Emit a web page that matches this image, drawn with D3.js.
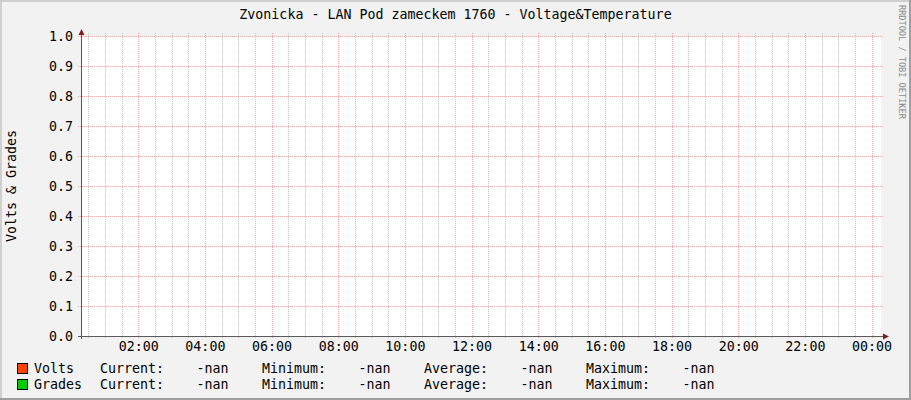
<!DOCTYPE html>
<html>
<head>
<meta charset="utf-8">
<script src="https://cdn.jsdelivr.net/npm/d3@7"></script>
<style>
	body { margin: 0; background: #fff; }
	text { font-family: "DejaVu Sans Mono", monospace; font-size: 13.3px; fill: #000; }
</style>
</head>
<body>
<svg id="chart" width="911" height="400"></svg>
<script>
// chart content
var title = "Zvonicka - LAN Pod zameckem 1760 - Voltage&Temperature";
var yLabel = "Volts & Grades";
var watermark = "RRDTOOL / TOBI OETIKER";

var timeStart = new Date(2024, 0, 1, 0, 17); // graph window, one day
var timeEnd = new Date(2024, 0, 2, 0, 17);
var yTicks = [0.0, 0.1, 0.2, 0.3, 0.4, 0.5, 0.6, 0.7, 0.8, 0.9, 1.0];

var seriesNames = ["Volts", "Grades"];
var seriesColors = ["#ff4400", "#00cc00"];
var statNames = ["Current:", "Minimum:", "Average:", "Maximum:"];
var voltsStats = [NaN, NaN, NaN, NaN];
var gradesStats = [NaN, NaN, NaN, NaN];
var voltsValues = [];  // no samples in the window
var gradesValues = [];

var W = 911, H = 400;
var plot = { left: 81, top: 36, width: 800, height: 300 };

var svg = d3.select('#chart');

var x = d3.scaleTime()
	.domain([timeStart, timeEnd])
	.range([plot.left, plot.left + plot.width]);
var y = d3.scaleLinear()
	.domain([0, 1])
	.range([plot.top + plot.height, plot.top]);

function px(v) { return Math.round(v) + 0.5; }

// background and 3d frame
svg.append('rect').attr('width', W).attr('height', H).attr('fill', '#f2f2f2');
svg.append('rect').attr('x', 0).attr('y', 0).attr('width', W).attr('height', 2).attr('fill', '#cfcfcf');
svg.append('rect').attr('x', 0).attr('y', 0).attr('width', 2).attr('height', H).attr('fill', '#cfcfcf');
svg.append('rect').attr('x', 0).attr('y', H - 2).attr('width', W).attr('height', 2).attr('fill', '#9e9e9e');
svg.append('rect').attr('x', W - 2).attr('y', 0).attr('width', 2).attr('height', H).attr('fill', '#9e9e9e');

svg.append('rect')
	.attr('x', plot.left).attr('y', plot.top)
	.attr('width', plot.width).attr('height', plot.height)
	.attr('fill', '#fff');

// grid
var gridG = svg.append('g').attr('fill', 'none').attr('stroke-dasharray', '1,1');
var yTop = plot.top - 3, yBot = plot.top + plot.height + 3;

var minorTicks = x.ticks(d3.timeMinute.every(30));
var majorTicks = x.ticks(d3.timeHour.every(2));
var isMajor = function(d) { return d.getMinutes() === 0 && d.getHours() % 2 === 0; };

gridG.selectAll('line.minor')
	.data(minorTicks.filter(function(d) { return !isMajor(d); }))
	.enter().append('line')
		.attr('x1', function(d) { return px(x(d)); })
		.attr('x2', function(d) { return px(x(d)); })
		.attr('y1', yTop).attr('y2', yBot)
		.attr('stroke', '#c8c8c8');

gridG.selectAll('line.vmajor')
	.data(majorTicks)
	.enter().append('line')
		.attr('x1', function(d) { return px(x(d)); })
		.attr('x2', function(d) { return px(x(d)); })
		.attr('y1', yTop).attr('y2', yBot)
		.attr('stroke', '#f4aaaa');

gridG.selectAll('line.hmajor')
	.data(yTicks)
	.enter().append('line')
		.attr('x1', plot.left - 3).attr('x2', plot.left + plot.width + 2)
		.attr('y1', function(d) { return px(y(d)); })
		.attr('y2', function(d) { return px(y(d)); })
		.attr('stroke', '#f4aaaa');

// tick labels
svg.append('g').selectAll('text')
	.data(yTicks)
	.enter().append('text')
		.attr('x', plot.left - 8)
		.attr('y', function(d) { return y(d); })
		.attr('dy', '0.36em')
		.attr('text-anchor', 'end')
		.text(d3.format('.1f'));

svg.append('g').selectAll('text')
	.data(majorTicks)
	.enter().append('text')
		.attr('x', function(d) { return x(d) + 0.5; })
		.attr('y', plot.top + plot.height + 15)
		.attr('text-anchor', 'middle')
		.text(d3.timeFormat('%H:%M'));

// series (all -nan here, so nothing is drawn)
var line = d3.line()
	.defined(function(d) { return !isNaN(d.v); })
	.x(function(d) { return x(d.t); })
	.y(function(d) { return y(d.v); });
[voltsValues, gradesValues].forEach(function(vals, i) {
	svg.append('path')
		.datum(vals)
		.attr('fill', 'none')
		.attr('stroke', seriesColors[i])
		.attr('d', line);
});

// axes with arrows
var axisY = px(plot.top + plot.height), axisX = px(plot.left);
svg.append('line')
	.attr('x1', plot.left - 3).attr('x2', plot.left + plot.width + 3)
	.attr('y1', axisY).attr('y2', axisY)
	.attr('stroke', '#5a5a5a');
svg.append('line')
	.attr('x1', axisX).attr('x2', axisX)
	.attr('y1', plot.top + plot.height + 3).attr('y2', plot.top - 2)
	.attr('stroke', '#5a5a5a');
var xr = plot.left + plot.width + 2;
svg.append('path')
	.attr('d', 'M' + xr + ',' + (axisY - 3) + 'L' + (xr + 6) + ',' + axisY + 'L' + xr + ',' + (axisY + 3) + 'Z')
	.attr('fill', '#801f1f');
svg.append('path')
	.attr('d', 'M' + (axisX - 3) + ',' + (plot.top - 1) + 'L' + axisX + ',' + (plot.top - 7) + 'L' + (axisX + 3) + ',' + (plot.top - 1) + 'Z')
	.attr('fill', '#801f1f');

// titles
svg.append('text')
	.attr('x', W / 2).attr('y', 19)
	.attr('text-anchor', 'middle')
	.text(title);

svg.append('text')
	.attr('transform', 'translate(16,' + (plot.top + plot.height / 2) + ') rotate(-90)')
	.attr('text-anchor', 'middle')
	.text(yLabel);

svg.append('text')
	.attr('transform', 'translate(899,5) rotate(90)')
	.style('font-size', '8.6px')
	.style('fill', '#8c8c8c')
	.text(watermark);

// legend
var legendG = svg.append('g');
var allStats = [voltsStats, gradesStats];
var fmt = function(v) { return isNaN(v) ? '-nan' : v.toFixed(2); };

seriesNames.forEach(function(name, i) {
	var base = 373 + i * 16;
	legendG.append('rect')
		.attr('x', 17.5).attr('y', base - 9.5)
		.attr('width', 10).attr('height', 10)
		.attr('fill', seriesColors[i])
		.attr('stroke', '#000');
	legendG.append('text').attr('x', 34).attr('y', base).text(name);

	statNames.forEach(function(s, j) {
		var col = 100 + j * 162;
		legendG.append('text').attr('x', col).attr('y', base).text(s);
		legendG.append('text')
			.attr('x', col + 128.5).attr('y', base)
			.attr('text-anchor', 'end')
			.text(fmt(allStats[i][j]));
	});
});
</script>
</body>
</html>
